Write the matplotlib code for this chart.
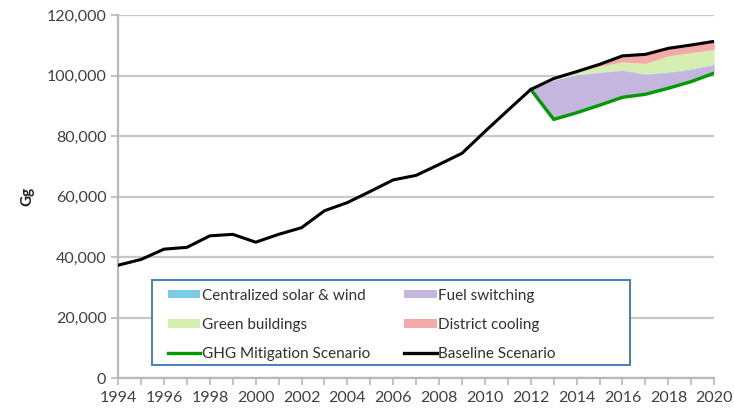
import numpy as np
import matplotlib.pyplot as plt
from matplotlib.patches import Patch, Rectangle
from matplotlib.lines import Line2D
from matplotlib.ticker import FuncFormatter, MultipleLocator

plt.rcParams['font.family'] = ['Lato', 'DejaVu Sans']

years = np.arange(1994, 2021)
baseline = [37300, 39200, 42600, 43200, 47000, 47500, 44900, 47500, 49700,
            55300, 58000, 61700, 65500, 67000, 70600, 74300, 81500, 88500,
            95400, 99000, 101300, 103700, 106500, 107000, 109000, 110100, 111300]

# mitigation wedges, 2012-2020 (Gg)
wedge_years = np.arange(2012, 2021)
fuel_switching = [0, 13000, 12500, 10800, 8900, 6600, 5200, 4000, 2700]
solar_wind = [0, 0, 100, 100, 150, 150, 200, 200, 250]
green_buildings = [0, 400, 700, 2000, 2650, 3450, 5300, 5400, 4850]
district_cooling = [0, 100, 300, 600, 2000, 3000, 2500, 2500, 2700]

base_tail = np.array(baseline[-len(wedge_years):])
wedges = [fuel_switching, solar_wind, green_buildings, district_cooling]
mitigation = base_tail - np.sum(wedges, axis=0)

c_solar = '#7ccbe6'
c_fuel = '#c5b6df'
c_green = '#d6efb0'
c_district = '#f3aaa8'
c_mit = '#009a00'
tick_col = '#404040'

fig = plt.figure(figsize=(7.34, 4.12), dpi=100)
ax = fig.add_axes([0.161, 0.0825, 0.812, 0.881])

# stacked areas sitting on top of the mitigation line
lower = mitigation.astype(float)
for vals, col in zip(wedges, [c_fuel, c_solar, c_green, c_district]):
    upper = lower + np.array(vals)
    ax.fill_between(wedge_years, lower, upper, color=col, lw=0, zorder=2)
    lower = upper

ax.plot(wedge_years, mitigation, color=c_mit, lw=2.4, zorder=3)
ax.plot(years, baseline, color='black', lw=2.2, zorder=4)

ax.set_xlim(1994, 2020)
ax.set_ylim(0, 120000)
ax.set_xticks(np.arange(1994, 2021, 2))
ax.xaxis.set_minor_locator(MultipleLocator(1))
ax.yaxis.set_major_locator(MultipleLocator(20000))
ax.yaxis.set_major_formatter(FuncFormatter(lambda v, p: '{:,.0f}'.format(v)))

ax.grid(axis='y', color='#c8c8c8', lw=1.6, zorder=0)
ax.set_axisbelow(True)
for s in ['top', 'right']:
    ax.spines[s].set_visible(False)
for s in ['left', 'bottom']:
    ax.spines[s].set_color('#b8b8b8')
    ax.spines[s].set_linewidth(1.6)
ax.tick_params(axis='both', which='both', colors='#b8b8b8', width=1.2,
               labelcolor=tick_col, labelsize=11.5)
ax.tick_params(axis='both', which='major', length=5)
ax.tick_params(axis='x', which='minor', length=5)
ax.tick_params(axis='x', pad=4)

ax.set_ylabel('Gg', fontsize=11, fontweight='bold', color='#202020', labelpad=9)

# legend frame drawn separately so it can be wider than its entries
frame = Rectangle((0.057, 0.036), 0.802, 0.234, transform=ax.transAxes,
                  facecolor='white', edgecolor='#4a7ebb', lw=1.4, zorder=5,
                  clip_on=False)
ax.add_patch(frame)

handles = [
    Patch(facecolor=c_solar, edgecolor='none', label='Centralized solar & wind'),
    Patch(facecolor=c_green, edgecolor='none', label='Green buildings'),
    Line2D([], [], color=c_mit, lw=2.4, label='GHG Mitigation Scenario'),
    Patch(facecolor=c_fuel, edgecolor='none', label='Fuel switching'),
    Patch(facecolor=c_district, edgecolor='none', label='District cooling'),
    Line2D([], [], color='black', lw=2.4, label='Baseline Scenario'),
]
leg = ax.legend(handles=handles, ncol=2, loc='upper left',
                bbox_to_anchor=(0.084, 0.2465), borderaxespad=0,
                fontsize=11, frameon=False,
                handlelength=2.1, handleheight=0.5, handletextpad=0.1,
                labelspacing=1.0, borderpad=0, columnspacing=2.25,
                labelcolor='#303030')
leg.set_zorder(6)

plt.savefig('out.png', dpi=100)
plt.close()
